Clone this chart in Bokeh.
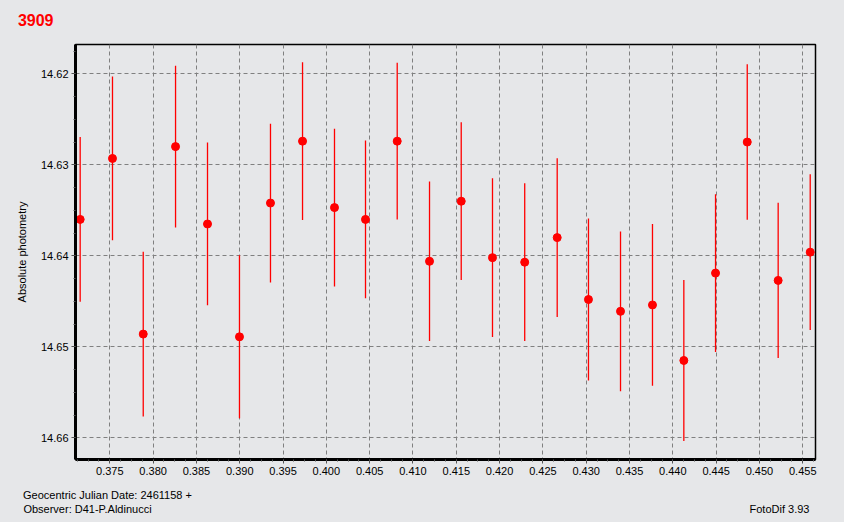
from bokeh.plotting import figure
from bokeh.models import (ColumnDataSource, Range1d, SingleIntervalTicker,
                          PrintfTickFormatter, FixedTicker, LinearAxis)
from bokeh.layouts import column
from bokeh.embed import file_html
from bokeh.resources import INLINE

# ---- data ----
title_text = "3909"
jd_label = "Geocentric Julian Date: 2461158 +"
observer = "Observer: D41-P.Aldinucci"
software = "FotoDif 3.93"
y_label = "Absolute photometry"

jd = [0.37158, 0.37531, 0.37886, 0.38259, 0.38628, 0.38997, 0.39355, 0.39725,
      0.40094, 0.40452, 0.40818, 0.41191, 0.41557, 0.41918, 0.42290, 0.42665,
      0.43026, 0.43396, 0.43765, 0.44127, 0.44493, 0.44859, 0.45216, 0.45586]
mag = [14.6360, 14.6293, 14.6486, 14.6280, 14.6365, 14.6489, 14.6342, 14.6274,
       14.6347, 14.6360, 14.6274, 14.6406, 14.6340, 14.6402, 14.6407, 14.6380,
       14.6448, 14.6461, 14.6454, 14.6515, 14.6419, 14.6275, 14.6427, 14.6396]
err = [0.00905, 0.00900, 0.00905, 0.00889, 0.00894, 0.00896, 0.00872, 0.00867,
       0.00867, 0.00867, 0.00861, 0.00877, 0.00867, 0.00872, 0.00867, 0.00872,
       0.00889, 0.00877, 0.00889, 0.00885, 0.00867, 0.00855, 0.00853, 0.00855]

x_min, x_max = 0.37104, 0.45647
y_top, y_bottom = 14.61678, 14.66238

src = ColumnDataSource(dict(
    x=jd, y=mag,
    lo=[m - e for m, e in zip(mag, err)],
    hi=[m + e for m, e in zip(mag, err)],
))

BG = "#E6E7E9"
FONT = "Liberation Sans"
W = 844
FL, FR = 75, 815          # frame left / right edge in page pixels
STY = {"background-color": BG}
HH = 30                   # header height
FH = 38                   # footer height


def plain_axis(ax, size, color="black", bold=False):
    ax.axis_line_color = None
    ax.major_tick_line_color = None
    ax.minor_tick_line_color = None
    ax.major_tick_in = 0
    ax.major_tick_out = 0
    ax.major_label_text_font = FONT
    ax.major_label_text_font_size = size
    ax.major_label_text_color = color
    if bold:
        ax.major_label_text_font_style = "bold"


# ---- header: the red object number, carried by a tick-less left axis ----
h = figure(width=W, height=HH, output_backend="svg", toolbar_location=None,
           x_range=Range1d(FL, FR), y_range=Range1d(HH, 0),
           x_axis_location=None, y_axis_location=None,
           min_border_left=FL, min_border_right=W - FR,
           min_border_top=0, min_border_bottom=0, styles=STY)
h.grid.visible = False
h.outline_line_color = None
h.background_fill_color = BG
h.border_fill_color = BG
t_y = 19
hax = LinearAxis(ticker=FixedTicker(ticks=[t_y], minor_ticks=[]),
                 major_label_overrides={t_y: title_text})
plain_axis(hax, "16px", color="red", bold=True)
hax.major_label_standoff = 22
h.add_layout(hax, "left")

# ---- main plot ----
p = figure(width=W, height=484 - HH, output_backend="svg", toolbar_location=None,
           x_range=Range1d(x_min, x_max), y_range=Range1d(y_bottom, y_top),
           min_border_left=FL, min_border_right=W - FR, min_border_top=44 - HH,
           min_border_bottom=25, styles=STY)
p.background_fill_color = BG
p.border_fill_color = BG
p.outline_line_color = "black"
p.outline_line_width = 1.5

p.xaxis.ticker = SingleIntervalTicker(interval=0.005, num_minor_ticks=4)
p.yaxis.ticker = SingleIntervalTicker(interval=0.01, num_minor_ticks=4)
p.xaxis.formatter = PrintfTickFormatter(format="%.3f")
p.yaxis.formatter = PrintfTickFormatter(format="%.2f")
for ax in (p.xaxis[0], p.yaxis[0]):
    ax.axis_line_color = "black"
    ax.axis_line_width = 3
    ax.major_tick_line_color = "#555555"
    ax.minor_tick_line_color = "#555555"
    ax.major_tick_in = 0
    ax.major_tick_out = 4
    ax.minor_tick_in = 0
    ax.minor_tick_out = 2
    ax.major_label_text_font = FONT
    ax.major_label_text_font_size = "11px"
    ax.major_label_text_color = "black"
    ax.major_label_standoff = 3
p.yaxis.axis_label = y_label
p.yaxis.axis_label_text_font = FONT
p.yaxis.axis_label_text_font_size = "11px"
p.yaxis.axis_label_text_font_style = "normal"
p.yaxis.axis_label_text_color = "black"
p.yaxis.axis_label_standoff = 10

for g in (p.xgrid[0], p.ygrid[0]):
    g.grid_line_color = "#808080"
    g.grid_line_dash = "4 3"
    g.grid_line_width = 1

p.segment(x0="x", y0="lo", x1="x", y1="hi", source=src,
          line_color="red", line_width=1.3)
p.scatter(x="x", y="y", source=src, marker="circle", size=8,
          fill_color="red", line_color="red")

# ---- footer: info texts carried by two tick-less axes ----
f = figure(width=W, height=FH, output_backend="svg", toolbar_location=None,
           x_range=Range1d(FL, FR), y_range=Range1d(0, 1),
           x_axis_location=None, y_axis_location=None,
           min_border_left=FL, min_border_right=W - FR,
           min_border_top=16, min_border_bottom=20, styles=STY)
f.grid.visible = False
f.outline_line_color = None
f.background_fill_color = BG
f.border_fill_color = BG

c_jd, c_obs, c_soft = 107, 87, 779
for place, ticks, texts in (("above", [c_jd], [jd_label]),
                            ("below", [c_obs, c_soft], [observer, software])):
    ax = LinearAxis(ticker=FixedTicker(ticks=ticks, minor_ticks=[]),
                    major_label_overrides=dict(zip(ticks, texts)))
    plain_axis(ax, "11px")
    ax.major_label_standoff = 0
    f.add_layout(ax, place)

layout = column(h, p, f, spacing=0, styles=STY)
html = file_html(layout, INLINE)
html = html.replace("<body>", '<body style="background-color:%s">' % BG, 1)
open("out.html", "w").write(html)
